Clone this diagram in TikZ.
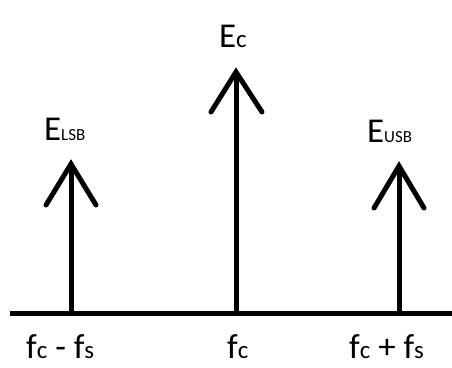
\documentclass[tikz,border=0pt]{standalone}
\usepackage{fontspec}
\setmainfont{Carlito}
\begin{document}
\begin{tikzpicture}[x=1bp,y=-1bp,
  stem/.style={line width=5bp},
  barb/.style={line width=5bp,line cap=round},
  lbl/.style={anchor=base west,inner sep=0pt,font=\fontsize{35}{35}\selectfont}]
\useasboundingbox (0,0) rectangle (452,367);
\newcommand\subsz[1]{{\fontsize{17}{17}\selectfont #1}}
\newcommand\subc[1]{{\fontsize{25}{25}\selectfont #1}}
% axis
\coordinate (axL) at (10,313);
\coordinate (axR) at (452,313);
\draw[stem] (axL) -- (axR);
% lower sideband
\coordinate (b1) at (71,313);
\coordinate (t1) at (71,164);
\coordinate (l1) at (46,205);
\coordinate (r1) at (96,205);
\draw[stem] (b1) -- (t1);
\draw[barb] (l1) -- (t1) -- (r1);
% carrier
\coordinate (b2) at (236,313);
\coordinate (t2) at (236,72);
\coordinate (l2) at (211,112);
\coordinate (r2) at (262,112);
\draw[stem] (b2) -- (t2);
\draw[barb] (l2) -- (t2) -- (r2);
% upper sideband
\coordinate (b3) at (399,313);
\coordinate (t3) at (399,166);
\coordinate (l3) at (374,208);
\coordinate (r3) at (424,208);
\draw[stem] (b3) -- (t3);
\draw[barb] (l3) -- (t3) -- (r3);
% labels
\node[lbl] (ec) at (219,47) {E\subc{c}};
\node[lbl] (elsb) at (44,140) {E\subsz{LSB}};
\node[lbl] (eusb) at (367,142) {E\subsz{USB}};
\node[lbl] (f1) at (26,358) {f\subc{c} - f\subc{s}};
\node[lbl] (f2) at (227,358) {f\subc{c}};
\node[lbl] (f3) at (349,358) {f\subc{c} + f\subc{s}};
\end{tikzpicture}
\end{document}
